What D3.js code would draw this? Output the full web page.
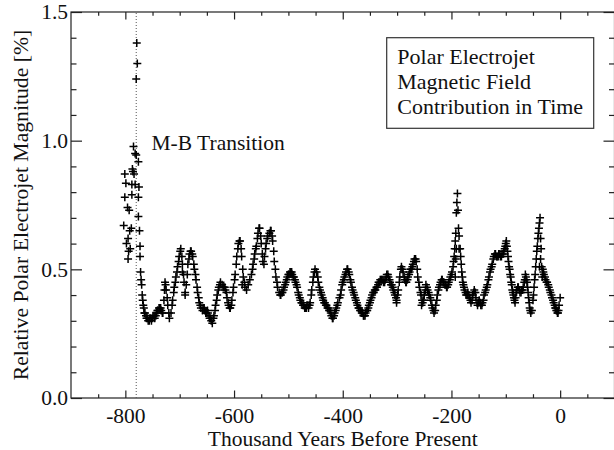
<!DOCTYPE html>
<html>
<head>
<meta charset="utf-8">
<script src="https://cdn.jsdelivr.net/npm/d3@7"></script>
<style>
  html, body { margin: 0; padding: 0; background: #fff; }
  svg { display: block; }
  text { font-family: "Liberation Serif", "Times New Roman", serif; fill: #111; }
</style>
</head>
<body>
<svg id="chart" width="614" height="450"></svg>
<script>
// ---- data ----
const transitionYears = [-803,-801,-801,-799,-798,-796,-795,-795,-794,-793,-792,-791,-789,-788,-788,-787,-786,-785,-784,-782,-782,-780,-780,-779,-778,-776,-776,-776,-775,-774,-773,-773,-772,-771,-770,-769,-768,-767,-766,-765];
const transitionValues = [0.67,0.87,0.78,0.835,0.60,0.74,0.62,0.54,0.57,0.73,0.65,0.58,0.66,0.83,0.79,0.89,0.88,0.977,0.87,0.95,0.83,0.944,1.24,1.38,1.30,0.918,0.78,0.705,0.82,0.65,0.59,0.55,0.49,0.46,0.44,0.40,0.38,0.36,0.35,0.33];

const years = [-764,-761,-758,-755,-752,-749,-746,-743,-740,-737,-734,-731,-729,-727,-725,-722,-719,-716,-713,-710,-707,-704,-701,-698,-695,-692,-690,-688,-685,-682,-679,-676,-673,-670,-667,-664,-661,-658,-655,-652,-649,-646,-643,-640,-637,-634,-631,-628,-625,-622,-619,-616,-613,-610,-607,-604,-601,-598,-595,-592,-589,-586,-583,-580,-577,-574,-571,-568,-565,-562,-559,-556,-553,-550,-547,-544,-541,-538,-535,-532,-529,-526,-523,-520,-517,-514,-511,-508,-505,-502,-499,-496,-493,-490,-487,-484,-481,-478,-475,-472,-469,-466,-463,-460,-457,-454,-451,-448,-445,-442,-439,-436,-433,-430,-427,-424,-421,-418,-415,-412,-409,-406,-403,-400,-397,-394,-391,-388,-385,-382,-379,-376,-373,-370,-367,-364,-361,-358,-355,-352,-349,-346,-343,-340,-337,-334,-331,-328,-325,-322,-319,-316,-313,-310,-307,-304,-301,-298,-295,-292,-289,-286,-283,-280,-277,-274,-271,-268,-265,-262,-259,-256,-253,-250,-247,-244,-241,-238,-235,-232,-229,-226,-223,-220,-217,-214,-211,-208,-205,-202,-199,-196,-194,-192,-191,-190,-189,-188,-187,-186,-184,-182,-180,-178,-176,-173,-170,-167,-164,-161,-158,-155,-152,-149,-146,-143,-140,-137,-134,-131,-128,-125,-122,-119,-116,-113,-110,-107,-104,-101,-99,-97,-95,-93,-91,-89,-87,-85,-83,-81,-78,-75,-72,-69,-66,-64,-62,-60,-58,-56,-54,-52,-50,-48,-46,-44,-42,-40,-38,-37,-35,-34,-32,-30,-27,-24,-21,-18,-15,-12,-9,-7,-5,-3,0,
  -192,-191,-186,-193,-38,-36,-33,-301,-255,-545,-695,-585,-690];
const magnitude = [0.33,0.31,0.30,0.31,0.30,0.32,0.31,0.33,0.34,0.35,0.34,0.33,0.38,0.45,0.42,0.36,0.31,0.33,0.38,0.43,0.47,0.51,0.55,0.58,0.52,0.45,0.41,0.44,0.52,0.56,0.57,0.55,0.50,0.46,0.41,0.37,0.35,0.34,0.35,0.33,0.34,0.32,0.31,0.29,0.32,0.36,0.40,0.43,0.45,0.44,0.43,0.42,0.39,0.36,0.35,0.38,0.43,0.48,0.55,0.60,0.61,0.55,0.47,0.43,0.42,0.44,0.46,0.48,0.52,0.56,0.59,0.64,0.66,0.60,0.53,0.55,0.60,0.63,0.64,0.65,0.61,0.53,0.47,0.43,0.41,0.40,0.41,0.43,0.45,0.47,0.48,0.49,0.48,0.47,0.45,0.43,0.40,0.38,0.37,0.36,0.35,0.36,0.35,0.37,0.42,0.47,0.50,0.49,0.45,0.42,0.40,0.38,0.37,0.36,0.35,0.34,0.32,0.31,0.33,0.35,0.37,0.39,0.42,0.45,0.47,0.49,0.50,0.48,0.45,0.42,0.40,0.38,0.36,0.35,0.34,0.33,0.32,0.33,0.34,0.36,0.38,0.40,0.41,0.42,0.43,0.45,0.46,0.46,0.45,0.46,0.48,0.47,0.45,0.44,0.42,0.40,0.38,0.42,0.47,0.51,0.49,0.46,0.45,0.47,0.49,0.50,0.52,0.54,0.53,0.47,0.43,0.40,0.37,0.40,0.44,0.42,0.40,0.38,0.35,0.33,0.36,0.40,0.43,0.45,0.46,0.45,0.44,0.43,0.45,0.47,0.49,0.53,0.58,0.64,0.72,0.76,0.795,0.73,0.66,0.63,0.58,0.52,0.47,0.44,0.42,0.40,0.41,0.39,0.37,0.40,0.42,0.39,0.36,0.38,0.36,0.37,0.40,0.42,0.44,0.47,0.50,0.52,0.55,0.56,0.55,0.56,0.55,0.56,0.57,0.59,0.61,0.57,0.53,0.50,0.47,0.44,0.41,0.39,0.37,0.41,0.43,0.42,0.41,0.42,0.45,0.48,0.46,0.43,0.39,0.35,0.33,0.34,0.38,0.43,0.48,0.54,0.59,0.64,0.68,0.70,0.58,0.51,0.50,0.48,0.46,0.45,0.43,0.41,0.39,0.37,0.35,0.34,0.33,0.34,0.39,
  0.54,0.58,0.58,0.47,0.51,0.54,0.47,0.37,0.36,0.52,0.49,0.44,0.40];

// additional readings between the points above (the series is densely sampled)
const detailYears = [-762,-759,-756,-753,-750,-747,-744,-741,-738,-735,-732,-728,-726,-723,-720,-714,-711,-708,-705,-702,-699,-696,-693,-686,-683,-680,-677,-674,-671,-668,-665,-662,-657,-654,-651,-648,-645,-642,-638,-635,-632,-629,-626,-620,-617,-614,-611,-608,-605,-602,-599,-596,-593,-590,-587,-584,-581,-566,-563,-560,-557,-554,-551,-548,-542,-539,-533,-530,-527,-524,-521,-515,-512,-509,-506,-503,-500,-497,-494,-491,-488,-485,-482,-479,-476,-473,-470,-467,-464,-461,-458,-455,-452,-446,-443,-440,-437,-434,-431,-428,-425,-422,-419,-416,-413,-410,-404,-401,-398,-395,-392,-389,-386,-383,-380,-377,-374,-371,-368,-365,-362,-359,-356,-353,-350,-347,-344,-341,-338,-335,-332,-329,-326,-323,-320,-317,-314,-311,-308,-305,-302,-299,-296,-293,-290,-287,-284,-281,-278,-275,-272,-269,-266,-263,-260,-257,-254,-251,-248,-245,-242,-239,-236,-233,-230,-227,-224,-221,-218,-215,-212,-209,-206,-203,-200,-197,-195,-193,-183,-181,-179,-177,-174,-171,-168,-165,-162,-159,-156,-153,-150,-147,-144,-141,-138,-135,-132,-129,-126,-123,-120,-117,-114,-111,-108,-105,-102,-100,-98,-96,-94,-92,-90,-88,-86,-84,-82,-80,-77,-74,-71,-68,-65,-63,-61,-59,-57,-55,-49,-47,-45,-43,-41,-39,-36,-31,-28,-25,-22,-19,-16,-13,-10,-8,-6,-4,-2];
const detailValues = [0.32,0.31,0.30,0.31,0.31,0.32,0.32,0.34,0.35,0.35,0.33,0.42,0.44,0.39,0.33,0.36,0.41,0.45,0.49,0.53,0.57,0.55,0.48,0.48,0.54,0.57,0.56,0.52,0.48,0.43,0.39,0.36,0.35,0.34,0.33,0.33,0.31,0.30,0.31,0.34,0.38,0.42,0.44,0.43,0.43,0.41,0.37,0.35,0.36,0.41,0.46,0.52,0.58,0.61,0.58,0.50,0.45,0.50,0.54,0.58,0.62,0.66,0.63,0.56,0.58,0.62,0.65,0.63,0.57,0.50,0.45,0.40,0.41,0.42,0.44,0.46,0.48,0.49,0.49,0.47,0.46,0.44,0.41,0.39,0.37,0.36,0.35,0.35,0.36,0.36,0.40,0.45,0.49,0.47,0.43,0.41,0.39,0.37,0.36,0.35,0.34,0.33,0.31,0.32,0.34,0.36,0.40,0.44,0.46,0.48,0.50,0.49,0.46,0.43,0.41,0.39,0.37,0.35,0.34,0.33,0.32,0.32,0.34,0.35,0.37,0.39,0.41,0.42,0.43,0.44,0.45,0.46,0.46,0.45,0.47,0.48,0.46,0.44,0.43,0.41,0.39,0.40,0.45,0.50,0.50,0.47,0.45,0.46,0.48,0.50,0.51,0.53,0.54,0.50,0.45,0.41,0.38,0.38,0.42,0.43,0.41,0.39,0.36,0.34,0.34,0.38,0.42,0.44,0.46,0.45,0.44,0.43,0.44,0.46,0.48,0.51,0.55,0.61,0.55,0.49,0.45,0.43,0.41,0.40,0.40,0.38,0.38,0.41,0.41,0.37,0.37,0.37,0.36,0.38,0.41,0.43,0.46,0.49,0.51,0.54,0.56,0.55,0.55,0.56,0.55,0.56,0.58,0.60,0.59,0.55,0.51,0.48,0.45,0.42,0.40,0.38,0.39,0.42,0.43,0.41,0.42,0.43,0.46,0.47,0.45,0.41,0.37,0.34,0.40,0.46,0.51,0.57,0.62,0.66,0.62,0.49,0.47,0.45,0.44,0.42,0.40,0.38,0.36,0.35,0.34,0.33,0.36];

const transitionAge = -780;
const xMajorTicks = [-800, -600, -400, -200, 0];
const xMinorTicks = [-850,-750,-700,-650,-550,-500,-450,-350,-300,-250,-150,-100,-50,50];
const yMajorTicks = [0.0, 0.5, 1.0, 1.5];
const yMinorTicks = [0.1,0.2,0.3,0.4,0.6,0.7,0.8,0.9,1.1,1.2,1.3,1.4];
const legendLines = ["Polar Electrojet", "Magnetic Field", "Contribution in Time"];
const xTitle = "Thousand Years Before Present";
const yTitle = "Relative Polar Electrojet Magnitude [%]";
const annotation = "M-B Transition";

// ---- layout ----
const L = 71, R = 614.5, T = 12, B = 398;
const svg = d3.select("#chart");
const x = d3.scaleLinear().domain([-900, 100]).range([L, R]);
const y = d3.scaleLinear().domain([0, 1.5]).range([B, T]);

const axisColor = "#222";
const fs = 21.5;

function styleAxis(g) {
  g.select(".domain").remove();
  g.selectAll(".tick line").attr("stroke", axisColor).attr("stroke-width", 1.2);
  g.selectAll(".tick text").attr("font-size", fs).attr("fill", "#111")
    .attr("font-family", '"Liberation Serif", serif');
}

// bottom
svg.append("g").attr("transform", `translate(0,${B})`)
  .call(d3.axisBottom(x).tickValues(xMajorTicks).tickSizeInner(-7.5).tickSizeOuter(0).tickPadding(10).tickFormat(d => String(d)))
  .call(styleAxis);
svg.append("g").attr("transform", `translate(0,${B})`)
  .call(d3.axisBottom(x).tickValues(xMinorTicks).tickSizeInner(-3.8).tickSizeOuter(0).tickFormat(""))
  .call(styleAxis);
// top
svg.append("g").attr("transform", `translate(0,${T})`)
  .call(d3.axisTop(x).tickValues(xMajorTicks).tickSizeInner(-7.5).tickSizeOuter(0).tickFormat(""))
  .call(styleAxis);
svg.append("g").attr("transform", `translate(0,${T})`)
  .call(d3.axisTop(x).tickValues(xMinorTicks).tickSizeInner(-3.8).tickSizeOuter(0).tickFormat(""))
  .call(styleAxis);
// left
svg.append("g").attr("transform", `translate(${L},0)`)
  .call(d3.axisLeft(y).tickValues(yMajorTicks).tickSizeInner(-11).tickSizeOuter(0).tickPadding(3).tickFormat(d3.format(".1f")))
  .call(styleAxis);
svg.append("g").attr("transform", `translate(${L},0)`)
  .call(d3.axisLeft(y).tickValues(yMinorTicks).tickSizeInner(-5.5).tickSizeOuter(0).tickFormat(""))
  .call(styleAxis);
// right
svg.append("g").attr("transform", `translate(${R},0)`)
  .call(d3.axisRight(y).tickValues(yMajorTicks).tickSizeInner(-11).tickSizeOuter(0).tickFormat(""))
  .call(styleAxis);
svg.append("g").attr("transform", `translate(${R},0)`)
  .call(d3.axisRight(y).tickValues(yMinorTicks).tickSizeInner(-5.5).tickSizeOuter(0).tickFormat(""))
  .call(styleAxis);

// frame
svg.append("rect").attr("x", L).attr("y", T).attr("width", R - L).attr("height", B - T)
  .attr("fill", "none").attr("stroke", axisColor).attr("stroke-width", 1.2);

// dotted transition line
svg.append("line")
  .attr("x1", x(transitionAge)).attr("x2", x(transitionAge))
  .attr("y1", y(0)).attr("y2", y(1.5))
  .attr("stroke", "#555").attr("stroke-width", 1).attr("stroke-dasharray", "1,2");

// markers
const plus = "M-4,0H4M0,-4V4";
const pts = transitionYears.map((d, i) => [d, transitionValues[i]])
  .concat(years.map((d, i) => [d, magnitude[i]]))
  .concat(detailYears.map((d, i) => [d, detailValues[i]]));
svg.append("g").selectAll("path").data(pts).join("path")
  .attr("transform", d => `translate(${x(d[0])},${y(d[1])})`)
  .attr("d", plus).attr("stroke", "#000").attr("stroke-width", 1.5).attr("fill", "none");

// annotation
svg.append("text").attr("x", 151.5).attr("y", 150).attr("font-size", fs).text(annotation);

// legend
svg.append("rect").attr("x", 386.7).attr("y", 37.7).attr("width", 207).attr("height", 90.6)
  .attr("fill", "#fff").attr("stroke", "#333").attr("stroke-width", 1.2);
svg.append("g").selectAll("text").data(legendLines).join("text")
  .attr("x", 397.3).attr("y", (d, i) => 64.3 + i * 25).attr("font-size", 22).text(d => d);

// titles
svg.append("text").attr("x", (L + R) / 2).attr("y", 445.5).attr("text-anchor", "middle")
  .attr("font-size", 21.5).text(xTitle);
svg.append("text").attr("transform", `translate(27.5,${(T + B) / 2}) rotate(-90)`)
  .attr("text-anchor", "middle").attr("font-size", 21.7).text(yTitle);
</script>
</body>
</html>
